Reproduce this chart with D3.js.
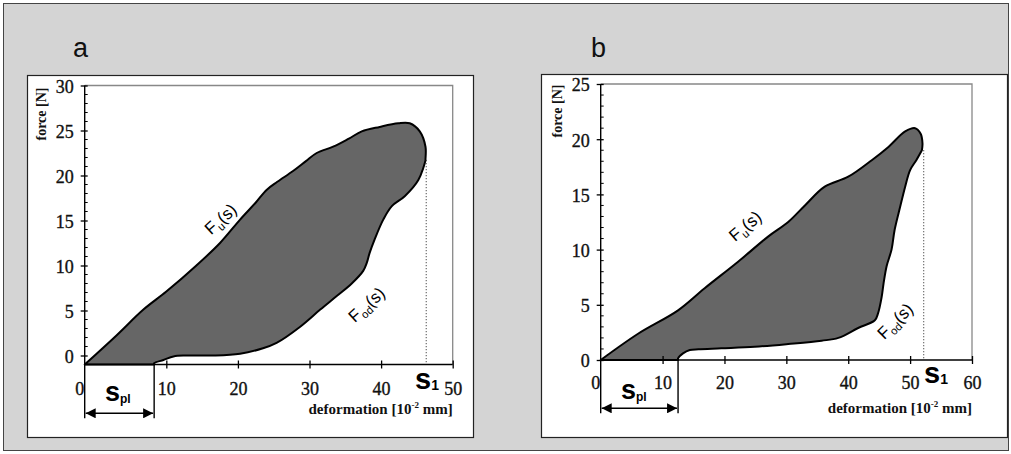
<!DOCTYPE html>
<html><head><meta charset="utf-8">
<script src="https://cdn.jsdelivr.net/npm/d3@7"></script>
<style>body{margin:0;background:#fff;} svg{display:block}</style>
</head><body><svg id="c" width="1011" height="454"></svg>
<script>
// ---------- data ----------
const panelLabels = ["a", "b"];
const xTicksA = [10, 20, 30, 40, 50];
const yTicksA = [0, 5, 10, 15, 20, 25, 30];
const xTicksB = [10, 20, 30, 40, 50, 60];
const yTicksB = [0, 5, 10, 15, 20, 25];
const zeroLabel = "0";
const yTitle = "force [N]";
const xTitleParts = ["deformation [10", "-2", " mm]"];
const curveNames = ["u", "od"];

// loading curve F_u(s) : [s, F]
const upperA = [[-1.4,-1],[3,2.2],[6.8,5.1],[10,7.1],[14.2,10],[17.5,12.5],[20.3,15.1],[22.5,17],[24,18.4],[25.5,19.3],[27.7,20.5],[29.5,21.6],[31,22.5],[33.3,23.2],[35.5,24.1],[37.3,24.9],[39.8,25.4],[42.4,25.8],[44,25.8],[45.4,24.9],[46.2,23.2],[46.2,21.8]];
// unloading curve F_od(s) : [s, F]
const lowerA = [[46.2,21.7],[45.2,19.5],[43.3,17.7],[41.5,16.6],[40.3,15.1],[39.1,12.9],[38.4,11.4],[38,10.3],[37.5,9.4],[35.9,8],[33.8,6.6],[31.5,5.1],[28.7,3.2],[25.4,1.4],[23.5,0.8],[20.3,0.2],[16.6,0],[12.8,0],[11,-0.1],[9.6,-0.5],[8.3,-0.85],[8.3,-1]];
const upperB = [[0,0],[6.1,2.4],[12.5,4.5],[16.8,6.5],[22.2,8.9],[27.1,11.2],[30.3,12.5],[33,14],[36.2,15.7],[40,16.6],[43.8,18.1],[46.5,19.3],[49.2,20.7],[50.8,21],[51.7,20.5],[52,19.6],[51.9,19]];
const lowerB = [[51.9,19],[51,18.1],[50,17.2],[49.2,15.7],[48.4,13.9],[47.5,11.8],[47,10],[46.2,8.5],[45.7,6.9],[45.4,5.7],[44.8,4.2],[44.3,3.6],[41.6,2.9],[38.4,2],[35.7,1.75],[30.3,1.45],[24.9,1.2],[19.5,1.06],[15.8,0.97],[14.4,0.9],[13.3,0.6],[12.5,0.15],[12.5,0]];
const s1Values = [46.3, 52.2];
const s1TopF = [21.7, 19.0];
const splValues = [8.3, 12.5];

// ---------- layout ----------
const panels = [
  {label: panelLabels[0], box:[27,75,446,362], plot:{l:84.7,r:452.7,t:85.5,b:364.5}, xDom:[-1.4,50], yDom:[-1,30],
   xTicks:xTicksA, yTicks:yTicksA, upper:upperA, lower:lowerA, s1:s1Values[0], s1Top:s1TopF[0], spl:splValues[0],
   labelPos:[73,57], yTitlePos:[41.5,114], xLabBase:395, xTitleBase:414, s1Pos:[415,389], splPos:[105,401], arrowY:413.3,
   fu:[220.5,219,-42], fod:[366.5,304.5,-42]},
  {label: panelLabels[1], box:[541,74,466,363], plot:{l:600.7,r:972,t:84,b:360}, xDom:[0,60], yDom:[0,25],
   xTicks:xTicksB, yTicks:yTicksB, upper:upperB, lower:lowerB, s1:s1Values[1], s1Top:s1TopF[1], spl:splValues[1],
   labelPos:[591,57], yTitlePos:[557,111], xLabBase:389, xTitleBase:413, s1Pos:[924,383], splPos:[621,398.5], arrowY:408.3,
   fu:[745,226,-40], fod:[895,321,-45]}
];

const svg = d3.select("#c");
svg.append("rect").attr("x",3.5).attr("y",3.5).attr("width",1005).attr("height",447)
  .attr("fill","#d4d4d4").attr("stroke","#444").attr("stroke-width",1);

const defs = svg.append("defs");
defs.append("marker").attr("id","ah").attr("viewBox","0 0 10 10").attr("refX",10).attr("refY",5)
  .attr("markerWidth",13).attr("markerHeight",10).attr("markerUnits","userSpaceOnUse").attr("orient","auto-start-reverse")
  .append("path").attr("d","M0,0L10,5L0,10Z").attr("fill","#000");

const serif = "'Liberation Serif','Times New Roman',serif";
const sans = "'Liberation Sans',Arial,sans-serif";

panels.forEach(p => {
  const g = svg.append("g");
  g.append("rect").attr("x",p.box[0]+0.5).attr("y",p.box[1]+0.5).attr("width",p.box[2]).attr("height",p.box[3])
    .attr("fill","#fff").attr("stroke","#222").attr("stroke-width",1.2);
  g.append("text").attr("x",p.labelPos[0]).attr("y",p.labelPos[1]).attr("font-family",sans).attr("font-size",27)
    .attr("fill","#111").text(p.label);

  const x = d3.scaleLinear().domain(p.xDom).range([p.plot.l, p.plot.r]);
  const y = d3.scaleLinear().domain(p.yDom).range([p.plot.b, p.plot.t]);

  // top/right frame
  g.append("path").attr("d",`M${p.plot.l},${p.plot.t}H${p.plot.r}V${p.plot.b}`).attr("fill","none")
    .attr("stroke","#888").attr("stroke-width",1.3);

  // filled hysteresis area
  const pts = p.upper.concat(p.lower);
  const line = d3.line().x(d=>x(d[0])).y(d=>y(d[1])).curve(d3.curveCatmullRom.alpha(0.5));
  g.append("path").attr("d", line(pts) + "Z").attr("fill","#666").attr("stroke","#000")
    .attr("stroke-width",2).attr("stroke-linejoin","round");

  // S1 dotted
  g.append("line").attr("x1",x(p.s1)).attr("x2",x(p.s1)).attr("y1",y(p.s1Top)).attr("y2",y(p.yDom[0]))
    .attr("stroke","#222").attr("stroke-width",1).attr("stroke-dasharray","1,2");

  // x axis
  g.append("line").attr("x1",p.plot.l).attr("x2",p.plot.r).attr("y1",p.plot.b).attr("y2",p.plot.b)
    .attr("stroke","#000").attr("stroke-width",1.4);
  const xAxis = d3.axisBottom(x).tickValues(p.xTicks).tickSize(0).tickFormat(d3.format("d"));
  const xa = g.append("g").attr("transform",`translate(0,${p.plot.b})`).call(xAxis);
  xa.select(".domain").remove();
  xa.selectAll(".tick line").remove();
  xa.selectAll(".tick").append("line").attr("y1",-4).attr("y2",4).attr("stroke","#000").attr("stroke-width",1.3);
  xa.selectAll(".tick text").attr("y", p.xLabBase - p.plot.b).attr("dy",null)
    .attr("font-family",serif).attr("font-size",18).attr("fill","#111").attr("stroke","#111").attr("stroke-width",0.35);
  g.append("text").attr("x",p.plot.l-5).attr("y",p.xLabBase).attr("text-anchor","middle")
    .attr("font-family",serif).attr("font-size",18).attr("fill","#111").attr("stroke","#111").attr("stroke-width",0.35).text(zeroLabel);

  // y axis (extends down to arrow)
  g.append("line").attr("x1",p.plot.l).attr("x2",p.plot.l).attr("y1",p.plot.t).attr("y2",p.arrowY+5)
    .attr("stroke","#000").attr("stroke-width",1.4);
  const minor = d3.range(Math.ceil(p.yDom[0]), p.yDom[1]+0.001, 1).filter(v => !p.yTicks.includes(v));
  g.selectAll(".mn").data(minor).enter().append("line").attr("x1",p.plot.l).attr("x2",p.plot.l+3)
    .attr("y1",d=>y(d)).attr("y2",d=>y(d)).attr("stroke","#000").attr("stroke-width",1);
  const yAxis = d3.axisLeft(y).tickValues(p.yTicks).tickSize(0).tickFormat(d3.format("d"));
  const ya = g.append("g").attr("transform",`translate(${p.plot.l},0)`).call(yAxis);
  ya.select(".domain").remove();
  ya.selectAll(".tick line").remove();
  ya.selectAll(".tick").append("line").attr("x1",-4).attr("x2",3).attr("stroke","#000").attr("stroke-width",1.3);
  ya.selectAll(".tick text").attr("x",-11).attr("dy","0.38em").attr("font-family",serif).attr("font-size",18)
    .attr("fill","#111").attr("stroke","#111").attr("stroke-width",0.35);

  // titles
  g.append("text").attr("transform",`translate(${p.yTitlePos[0]},${p.yTitlePos[1]}) rotate(-90)`)
    .attr("text-anchor","middle").attr("dy","0.35em").attr("font-family",serif).attr("font-weight","bold")
    .attr("font-size",14).attr("fill","#111").text(yTitle);
  const xt = g.append("text").attr("x",p.plot.r).attr("y",p.xTitleBase).attr("text-anchor","end")
    .attr("font-family",serif).attr("font-weight","bold").attr("font-size",15).attr("fill","#111");
  xt.append("tspan").text(xTitleParts[0]);
  xt.append("tspan").attr("dy",-6).attr("font-size",9).text(xTitleParts[1]);
  xt.append("tspan").attr("dy",6).text(xTitleParts[2]);

  // s1 label
  const s1t = g.append("text").attr("x",p.s1Pos[0]).attr("y",p.s1Pos[1]).attr("font-family",sans)
    .attr("font-weight","bold").attr("font-size",29).attr("fill","#000");
  s1t.append("tspan").text("s");
  s1t.append("tspan").attr("font-size",14).attr("dy",1).text("1");

  // s_pl arrow and label
  g.append("line").attr("x1",x(p.spl)).attr("x2",x(p.spl)).attr("y1",y(p.yDom[0])).attr("y2",p.arrowY+5)
    .attr("stroke","#000").attr("stroke-width",1.4);
  g.append("line").attr("x1",x(p.xDom[0])+1).attr("x2",x(p.spl)-1).attr("y1",p.arrowY).attr("y2",p.arrowY)
    .attr("stroke","#000").attr("stroke-width",1.5).attr("marker-start","url(#ah)").attr("marker-end","url(#ah)");
  const st = g.append("text").attr("x",p.splPos[0]).attr("y",p.splPos[1]).attr("font-family",sans)
    .attr("font-weight","bold").attr("font-size",27).attr("fill","#000");
  st.append("tspan").text("s");
  st.append("tspan").attr("font-size",12).attr("dy",2).text("pl");

  // curve labels
  [[p.fu, curveNames[0]], [p.fod, curveNames[1]]].forEach(([pos, sub]) => {
    const t = g.append("text").attr("transform",`translate(${pos[0]},${pos[1]}) rotate(${pos[2]})`)
      .attr("text-anchor","middle").attr("dy","0.35em").attr("font-family",sans).attr("font-size",17).attr("fill","#000");
    t.append("tspan").text("F");
    t.append("tspan").attr("font-size",11).attr("dy",4).text(sub);
    t.append("tspan").attr("dy",-4).text("(s)");
  });
});
</script></body></html>
